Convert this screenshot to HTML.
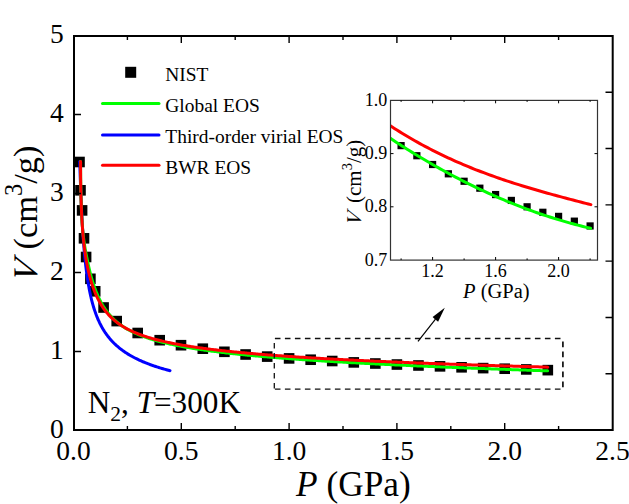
<!DOCTYPE html>
<html><head><meta charset="utf-8"><style>
html,body{margin:0;padding:0;background:#fff;}
body{width:629px;height:504px;overflow:hidden;}
svg{display:block;}
text{font-family:"Liberation Serif",serif;fill:#000;}
</style></head><body>
<svg width="629" height="504" viewBox="0 0 629 504">
<rect width="629" height="504" fill="#fff"/>
<!-- data -->
<g fill="#000"><rect x="74.20" y="156.70" width="10.6" height="10.6"/><rect x="75.20" y="185.00" width="10.6" height="10.6"/><rect x="76.80" y="205.10" width="10.6" height="10.6"/><rect x="78.70" y="233.00" width="10.6" height="10.6"/><rect x="80.80" y="251.70" width="10.6" height="10.6"/><rect x="85.10" y="273.50" width="10.6" height="10.6"/><rect x="89.90" y="286.00" width="10.6" height="10.6"/><rect x="98.30" y="302.20" width="10.6" height="10.6"/><rect x="111.40" y="315.80" width="10.6" height="10.6"/><rect x="132.40" y="327.70" width="10.6" height="10.6"/><rect x="154.40" y="334.90" width="10.6" height="10.6"/><rect x="175.70" y="339.90" width="10.6" height="10.6"/><rect x="197.50" y="343.40" width="10.6" height="10.6"/><rect x="219.10" y="346.50" width="10.6" height="10.6"/><rect x="240.30" y="349.20" width="10.6" height="10.6"/><rect x="261.90" y="351.30" width="10.6" height="10.6"/><rect x="283.80" y="353.10" width="10.6" height="10.6"/><rect x="305.36" y="354.42" width="10.6" height="10.6"/><rect x="326.92" y="355.72" width="10.6" height="10.6"/><rect x="348.48" y="357.10" width="10.6" height="10.6"/><rect x="370.04" y="358.21" width="10.6" height="10.6"/><rect x="391.60" y="359.23" width="10.6" height="10.6"/><rect x="413.16" y="360.18" width="10.6" height="10.6"/><rect x="434.72" y="361.05" width="10.6" height="10.6"/><rect x="456.28" y="362.00" width="10.6" height="10.6"/><rect x="477.84" y="362.81" width="10.6" height="10.6"/><rect x="499.40" y="363.42" width="10.6" height="10.6"/><rect x="520.96" y="364.13" width="10.6" height="10.6"/><rect x="542.52" y="364.84" width="10.6" height="10.6"/></g>
<g fill="none" stroke-width="3" stroke-linejoin="round" stroke-linecap="round">
<path stroke="#0000ff" d="M79.76,161.40 L79.79,162.42 L79.82,163.43 L79.85,164.45 L79.88,165.46 L79.91,166.48 L79.94,167.49 L79.97,168.51 L80.00,169.53 L80.03,170.54 L80.06,171.56 L80.10,172.57 L80.13,173.59 L80.16,174.61 L80.19,175.62 L80.23,176.64 L80.26,177.65 L80.29,178.67 L80.33,179.68 L80.36,180.70 L80.40,181.72 L80.43,182.73 L80.47,183.75 L80.50,184.76 L80.54,185.78 L80.58,186.80 L80.61,187.81 L80.65,188.83 L80.69,189.84 L80.73,190.86 L80.77,191.87 L80.81,192.89 L80.85,193.91 L80.89,194.92 L80.93,195.94 L80.97,196.95 L81.01,197.97 L81.05,198.98 L81.10,200.00 L81.14,201.02 L81.19,202.03 L81.23,203.05 L81.27,204.06 L81.32,205.08 L81.37,206.10 L81.41,207.11 L81.46,208.13 L81.51,209.14 L81.56,210.16 L81.61,211.17 L81.66,212.19 L81.71,213.21 L81.76,214.22 L81.81,215.24 L81.87,216.25 L81.92,217.27 L81.97,218.29 L82.03,219.30 L82.09,220.32 L82.14,221.33 L82.20,222.35 L82.26,223.36 L82.32,224.38 L82.38,225.40 L82.44,226.41 L82.50,227.43 L82.56,228.44 L82.63,229.46 L82.69,230.47 L82.76,231.49 L82.82,232.51 L82.89,233.52 L82.96,234.54 L83.03,235.55 L83.10,236.57 L83.17,237.59 L83.25,238.60 L83.32,239.62 L83.40,240.63 L83.47,241.65 L83.55,242.66 L83.63,243.68 L83.71,244.70 L83.79,245.71 L83.88,246.73 L83.96,247.74 L84.05,248.76 L84.14,249.77 L84.23,250.79 L84.32,251.81 L84.41,252.82 L84.51,253.84 L84.60,254.85 L84.70,255.87 L84.80,256.89 L84.90,257.90 L85.00,258.92 L85.11,259.93 L85.22,260.95 L85.32,261.96 L85.44,262.98 L85.55,264.00 L85.66,265.01 L85.78,266.03 L85.90,267.04 L86.03,268.06 L86.15,269.08 L86.28,270.09 L86.41,271.11 L86.54,272.12 L86.68,273.14 L86.82,274.15 L86.96,275.17 L87.10,276.19 L87.25,277.20 L87.40,278.22 L87.55,279.23 L87.71,280.25 L87.87,281.26 L88.04,282.28 L88.21,283.30 L88.38,284.31 L88.55,285.33 L88.74,286.34 L88.92,287.36 L89.11,288.38 L89.30,289.39 L89.50,290.41 L89.70,291.42 L89.91,292.44 L90.12,293.45 L90.34,294.47 L90.57,295.49 L90.80,296.50 L91.03,297.52 L91.27,298.53 L91.52,299.55 L91.78,300.57 L92.04,301.58 L92.31,302.60 L92.58,303.61 L92.87,304.63 L93.14,305.59 L93.43,306.55 L93.72,307.52 L94.02,308.48 L94.32,309.44 L94.64,310.40 L94.96,311.36 L95.30,312.33 L95.64,313.29 L95.99,314.25 L96.35,315.21 L96.73,316.18 L97.11,317.14 L97.51,318.10 L97.91,319.06 L98.33,320.03 L98.77,320.99 L99.19,321.90 L99.62,322.81 L100.07,323.71 L100.53,324.62 L101.00,325.53 L101.49,326.44 L101.99,327.35 L102.51,328.26 L103.05,329.17 L103.57,330.02 L104.10,330.88 L104.66,331.73 L105.22,332.59 L105.81,333.45 L106.42,334.30 L107.04,335.16 L107.64,335.96 L108.27,336.76 L108.91,337.56 L109.57,338.36 L110.25,339.17 L110.95,339.97 L111.63,340.72 L112.32,341.46 L113.04,342.21 L113.78,342.96 L114.54,343.71 L115.27,344.41 L116.02,345.10 L116.79,345.80 L117.58,346.49 L118.40,347.19 L119.18,347.83 L119.97,348.47 L120.80,349.11 L121.64,349.75 L122.51,350.39 L123.32,350.98 L124.16,351.57 L125.02,352.16 L125.91,352.75 L126.82,353.33 L127.66,353.87 L128.53,354.40 L129.42,354.94 L130.33,355.47 L131.27,356.01 L132.23,356.54 L133.11,357.02 L134.02,357.50 L134.95,357.98 L135.89,358.47 L136.87,358.95 L137.86,359.43 L138.77,359.86 L139.69,360.28 L140.63,360.71 L141.60,361.14 L142.58,361.57 L143.59,361.99 L144.62,362.42 L145.67,362.85 L146.61,363.22 L147.57,363.60 L148.55,363.97 L149.55,364.35 L150.56,364.72 L151.60,365.10 L152.66,365.47 L153.74,365.84 L154.84,366.22 L155.80,366.54 L156.78,366.86 L157.78,367.18 L158.79,367.50 L159.83,367.82 L160.88,368.14 L161.95,368.46 L163.04,368.78 L164.15,369.11 L165.28,369.43 L166.43,369.75 L167.40,370.01 L168.39,370.28 L169.40,370.55 L170.01,370.71"/>
<path stroke="#00ff00" d="M80.56,161.40 L80.56,162.42 L80.57,163.43 L80.57,164.45 L80.57,165.46 L80.57,166.48 L80.58,167.49 L80.58,168.51 L80.59,169.53 L80.60,170.54 L80.60,171.56 L80.61,172.57 L80.62,173.59 L80.62,174.61 L80.63,175.62 L80.64,176.64 L80.65,177.65 L80.66,178.67 L80.68,179.68 L80.69,180.70 L80.70,181.72 L80.72,182.73 L80.73,183.75 L80.75,184.76 L80.76,185.78 L80.78,186.80 L80.80,187.81 L80.82,188.83 L80.84,189.84 L80.86,190.86 L80.88,191.87 L80.90,192.89 L80.92,193.91 L80.95,194.92 L80.97,195.94 L81.00,196.95 L81.03,197.97 L81.06,198.98 L81.09,200.00 L81.12,201.02 L81.15,202.03 L81.18,203.05 L81.22,204.06 L81.25,205.08 L81.29,206.10 L81.33,207.11 L81.37,208.13 L81.41,209.14 L81.45,210.16 L81.50,211.17 L81.54,212.19 L81.59,213.21 L81.64,214.22 L81.69,215.24 L81.74,216.25 L81.80,217.27 L81.85,218.29 L81.91,219.30 L81.97,220.32 L82.03,221.33 L82.09,222.35 L82.15,223.36 L82.22,224.38 L82.29,225.40 L82.38,226.41 L82.47,227.43 L82.56,228.44 L82.65,229.46 L82.75,230.47 L82.85,231.49 L82.96,232.51 L83.07,233.52 L83.18,234.54 L83.29,235.55 L83.41,236.57 L83.54,237.59 L83.67,238.60 L83.80,239.62 L83.93,240.63 L84.07,241.65 L84.21,242.66 L84.36,243.68 L84.51,244.70 L84.67,245.71 L84.83,246.73 L84.99,247.74 L85.16,248.76 L85.34,249.77 L85.51,250.79 L85.70,251.81 L85.88,252.82 L86.07,253.84 L86.27,254.85 L86.47,255.87 L86.67,256.89 L86.89,257.90 L87.10,258.92 L87.32,259.93 L87.55,260.95 L87.78,261.96 L87.98,262.98 L88.19,264.00 L88.40,265.01 L88.61,266.03 L88.83,267.04 L89.06,268.06 L89.29,269.08 L89.53,270.09 L89.77,271.11 L90.02,272.12 L90.27,273.14 L90.53,274.15 L90.79,275.17 L91.06,276.19 L91.34,277.20 L91.62,278.22 L91.90,279.18 L92.18,280.14 L92.47,281.10 L92.76,282.07 L93.07,283.03 L93.37,283.99 L93.69,284.95 L94.02,285.92 L94.35,286.88 L94.69,287.84 L95.04,288.80 L95.39,289.77 L95.76,290.73 L96.14,291.69 L96.53,292.65 L96.92,293.61 L97.33,294.58 L97.75,295.54 L98.18,296.50 L98.60,297.41 L99.03,298.32 L99.47,299.23 L99.92,300.14 L100.39,301.05 L100.87,301.96 L101.37,302.86 L101.88,303.77 L102.40,304.68 L102.95,305.59 L103.47,306.45 L104.01,307.30 L104.57,308.16 L105.15,309.01 L105.75,309.87 L106.36,310.72 L107.00,311.58 L107.61,312.38 L108.25,313.18 L108.90,313.98 L109.58,314.79 L110.28,315.59 L110.96,316.34 L111.66,317.09 L112.38,317.83 L113.13,318.58 L113.90,319.33 L114.65,320.03 L115.41,320.72 L116.21,321.42 L117.03,322.11 L117.81,322.75 L118.62,323.39 L119.45,324.04 L120.31,324.68 L121.13,325.27 L121.97,325.85 L122.84,326.44 L123.74,327.03 L124.66,327.62 L125.53,328.15 L126.43,328.69 L127.35,329.22 L128.30,329.76 L129.18,330.24 L130.08,330.72 L131.01,331.20 L131.97,331.68 L132.96,332.16 L133.97,332.64 L134.90,333.07 L135.85,333.50 L136.82,333.93 L137.83,334.35 L138.86,334.78 L139.91,335.21 L140.86,335.58 L141.83,335.96 L142.83,336.33 L143.85,336.71 L144.89,337.08 L145.96,337.45 L147.05,337.83 L148.02,338.15 L149.00,338.47 L150.00,338.79 L151.02,339.11 L152.07,339.43 L153.14,339.75 L154.23,340.07 L155.35,340.40 L156.49,340.72 L157.46,340.98 L158.44,341.25 L159.45,341.52 L160.48,341.79 L161.52,342.05 L162.58,342.32 L163.67,342.59 L164.77,342.85 L165.89,343.12 L167.04,343.39 L168.21,343.66 L169.40,343.92 L170.61,344.19 L171.60,344.41 L172.60,344.62 L173.61,344.83 L174.65,345.05 L175.70,345.26 L176.76,345.47 L177.84,345.69 L178.94,345.90 L180.06,346.12 L181.19,346.33 L182.34,346.54 L183.51,346.76 L184.69,346.97 L185.90,347.19 L187.12,347.40 L188.37,347.61 L189.63,347.83 L190.91,348.04 L192.22,348.25 L193.21,348.41 L194.21,348.58 L195.23,348.74 L196.25,348.90 L197.29,349.06 L198.35,349.22 L199.41,349.38 L200.49,349.54 L201.58,349.70 L202.68,349.86 L203.80,350.02 L204.93,350.18 L206.07,350.34 L207.23,350.50 L208.40,350.66 L209.58,350.82 L210.78,350.98 L212.00,351.14 L213.22,351.30 L214.47,351.46 L215.73,351.62 L217.00,351.78 L218.29,351.94 L219.60,352.10 L220.92,352.26 L222.25,352.42 L223.61,352.58 L224.98,352.75 L226.36,352.91 L227.77,353.07 L229.19,353.23 L230.62,353.39 L232.08,353.55 L233.55,353.71 L235.04,353.87 L236.05,353.98 L237.06,354.08 L238.08,354.19 L239.11,354.30 L240.14,354.40 L241.19,354.51 L242.24,354.62 L243.31,354.72 L244.38,354.83 L245.46,354.94 L246.55,355.04 L247.64,355.15 L248.75,355.26 L249.87,355.37 L250.99,355.47 L252.12,355.58 L253.27,355.69 L254.42,355.79 L255.58,355.90 L256.75,356.01 L257.93,356.11 L259.12,356.22 L260.32,356.33 L261.53,356.43 L262.75,356.54 L263.98,356.65 L265.22,356.76 L266.47,356.86 L267.73,356.97 L269.00,357.08 L270.28,357.18 L271.57,357.29 L272.87,357.40 L274.18,357.50 L275.51,357.61 L276.84,357.72 L278.18,357.82 L279.54,357.93 L280.90,358.04 L282.28,358.15 L283.67,358.25 L285.07,358.36 L286.48,358.47 L287.90,358.57 L289.33,358.68 L290.78,358.79 L292.23,358.89 L293.70,359.00 L295.18,359.11 L296.67,359.21 L298.18,359.32 L299.69,359.43 L301.22,359.54 L302.76,359.64 L304.31,359.75 L305.88,359.86 L307.46,359.96 L309.05,360.07 L310.65,360.18 L312.26,360.28 L313.89,360.39 L315.53,360.50 L317.19,360.60 L318.86,360.71 L320.54,360.82 L322.23,360.93 L323.94,361.03 L325.66,361.14 L327.39,361.25 L329.14,361.35 L330.90,361.46 L332.68,361.57 L334.47,361.67 L336.27,361.78 L338.09,361.89 L339.92,361.99 L341.77,362.10 L343.63,362.21 L345.50,362.32 L347.39,362.42 L349.30,362.53 L351.22,362.64 L353.15,362.74 L355.10,362.85 L357.06,362.96 L359.04,363.06 L361.03,363.17 L362.04,363.22 L363.04,363.28 L364.05,363.33 L365.07,363.38 L366.08,363.44 L367.11,363.49 L368.13,363.54 L369.16,363.60 L370.19,363.65 L371.23,363.71 L372.27,363.76 L373.32,363.81 L374.36,363.87 L375.42,363.92 L376.47,363.97 L377.53,364.03 L378.60,364.08 L379.67,364.13 L380.74,364.19 L381.82,364.24 L382.90,364.29 L383.98,364.35 L385.07,364.40 L386.16,364.45 L387.26,364.51 L388.36,364.56 L389.46,364.61 L390.57,364.67 L391.68,364.72 L392.80,364.77 L393.92,364.83 L395.05,364.88 L396.18,364.94 L397.31,364.99 L398.45,365.04 L399.59,365.10 L400.73,365.15 L401.88,365.20 L403.03,365.26 L404.19,365.31 L405.35,365.36 L406.52,365.42 L407.69,365.47 L408.86,365.52 L410.04,365.58 L411.23,365.63 L412.41,365.68 L413.60,365.74 L414.80,365.79 L416.00,365.84 L417.20,365.90 L418.41,365.95 L419.62,366.00 L420.84,366.06 L422.06,366.11 L423.28,366.16 L424.51,366.22 L425.75,366.27 L426.98,366.33 L428.22,366.38 L429.47,366.43 L430.72,366.49 L431.98,366.54 L433.23,366.59 L434.50,366.65 L435.76,366.70 L437.04,366.75 L438.31,366.81 L439.59,366.86 L440.88,366.91 L442.16,366.97 L443.46,367.02 L444.76,367.07 L446.06,367.13 L447.36,367.18 L448.67,367.23 L449.99,367.29 L451.31,367.34 L452.63,367.39 L453.96,367.45 L455.29,367.50 L456.62,367.55 L457.96,367.61 L459.31,367.66 L460.66,367.72 L462.01,367.77 L463.37,367.82 L464.73,367.88 L466.09,367.93 L467.46,367.98 L468.84,368.04 L470.22,368.09 L471.60,368.14 L472.99,368.20 L474.38,368.25 L475.77,368.30 L477.17,368.36 L478.58,368.41 L479.99,368.46 L481.40,368.52 L482.82,368.57 L484.24,368.62 L485.66,368.68 L487.09,368.73 L488.53,368.78 L489.96,368.84 L491.41,368.89 L492.85,368.94 L494.30,369.00 L495.76,369.05 L497.21,369.11 L498.68,369.16 L500.14,369.21 L501.62,369.27 L503.09,369.32 L504.57,369.37 L506.05,369.43 L507.54,369.48 L509.03,369.53 L510.53,369.59 L512.03,369.64 L513.53,369.69 L515.04,369.75 L516.55,369.80 L518.06,369.85 L519.58,369.91 L521.11,369.96 L522.63,370.01 L524.16,370.07 L525.70,370.12 L527.24,370.17 L528.78,370.23 L530.32,370.28 L531.87,370.33 L533.43,370.39 L534.99,370.44 L536.55,370.50 L538.11,370.55 L539.68,370.60 L541.25,370.66 L542.83,370.71 L544.41,370.76 L545.99,370.82 L547.58,370.87 L547.58,370.87"/>
<path stroke="#ff0000" d="M80.56,161.40 L80.56,162.42 L80.57,163.43 L80.57,164.45 L80.57,165.46 L80.57,166.48 L80.58,167.49 L80.58,168.51 L80.59,169.53 L80.60,170.54 L80.60,171.56 L80.61,172.57 L80.62,173.59 L80.62,174.61 L80.63,175.62 L80.64,176.64 L80.65,177.65 L80.66,178.67 L80.68,179.68 L80.69,180.70 L80.70,181.72 L80.72,182.73 L80.73,183.75 L80.75,184.76 L80.76,185.78 L80.78,186.80 L80.80,187.81 L80.82,188.83 L80.84,189.84 L80.86,190.86 L80.88,191.87 L80.90,192.89 L80.92,193.91 L80.95,194.92 L80.97,195.94 L81.00,196.95 L81.03,197.97 L81.06,198.98 L81.09,200.00 L81.12,201.02 L81.15,202.03 L81.18,203.05 L81.22,204.06 L81.25,205.08 L81.29,206.10 L81.33,207.11 L81.37,208.13 L81.41,209.14 L81.45,210.16 L81.50,211.17 L81.54,212.19 L81.59,213.21 L81.64,214.22 L81.69,215.24 L81.74,216.25 L81.80,217.27 L81.85,218.29 L81.91,219.30 L81.97,220.32 L82.03,221.33 L82.09,222.35 L82.15,223.36 L82.22,224.38 L82.29,225.40 L82.36,226.41 L82.43,227.43 L82.51,228.44 L82.58,229.46 L82.66,230.47 L82.75,231.49 L82.83,232.51 L82.92,233.52 L83.00,234.54 L83.09,235.55 L83.19,236.57 L83.29,237.59 L83.38,238.60 L83.49,239.62 L83.59,240.63 L83.70,241.65 L83.81,242.66 L83.92,243.68 L84.04,244.70 L84.16,245.71 L84.28,246.73 L84.41,247.74 L84.54,248.76 L84.67,249.77 L84.81,250.79 L84.95,251.81 L85.09,252.82 L85.24,253.84 L85.39,254.85 L85.55,255.87 L85.71,256.89 L85.87,257.90 L86.04,258.92 L86.21,259.93 L86.39,260.95 L86.57,261.96 L86.76,262.98 L86.95,264.00 L87.15,265.01 L87.35,266.03 L87.55,267.04 L87.77,268.06 L87.98,269.08 L88.21,270.09 L88.44,271.11 L88.67,272.12 L88.92,273.14 L89.16,274.15 L89.42,275.17 L89.68,276.19 L89.95,277.20 L90.23,278.22 L90.51,279.23 L90.79,280.20 L91.07,281.16 L91.36,282.12 L91.66,283.08 L91.96,284.04 L92.28,285.01 L92.60,285.97 L92.93,286.93 L93.27,287.89 L93.62,288.86 L93.98,289.82 L94.35,290.78 L94.73,291.74 L95.12,292.71 L95.52,293.67 L95.94,294.63 L96.37,295.59 L96.81,296.56 L97.23,297.46 L97.67,298.37 L98.13,299.28 L98.59,300.19 L99.07,301.10 L99.57,302.01 L100.08,302.92 L100.61,303.83 L101.15,304.74 L101.68,305.59 L102.23,306.45 L102.79,307.30 L103.38,308.16 L103.98,309.01 L104.60,309.87 L105.20,310.67 L105.82,311.47 L106.47,312.27 L107.13,313.08 L107.82,313.88 L108.49,314.63 L109.17,315.37 L109.88,316.12 L110.62,316.87 L111.38,317.62 L112.11,318.31 L112.87,319.01 L113.65,319.71 L114.46,320.40 L115.23,321.04 L116.02,321.68 L116.85,322.32 L117.70,322.97 L118.58,323.61 L119.42,324.20 L120.28,324.78 L121.17,325.37 L122.09,325.96 L122.95,326.49 L123.84,327.03 L124.76,327.56 L125.70,328.10 L126.58,328.58 L127.48,329.06 L128.41,329.54 L129.37,330.02 L130.36,330.50 L131.37,330.99 L132.30,331.41 L133.25,331.84 L134.23,332.27 L135.24,332.70 L136.27,333.12 L137.20,333.50 L138.15,333.87 L139.13,334.25 L140.13,334.62 L141.16,335.00 L142.21,335.37 L143.29,335.74 L144.39,336.12 L145.36,336.44 L146.36,336.76 L147.37,337.08 L148.41,337.40 L149.47,337.72 L150.55,338.04 L151.66,338.36 L152.80,338.68 L153.77,338.95 L154.75,339.22 L155.75,339.49 L156.78,339.75 L157.82,340.02 L158.88,340.29 L159.97,340.56 L161.07,340.82 L162.20,341.09 L163.35,341.36 L164.53,341.63 L165.72,341.89 L166.94,342.16 L167.94,342.37 L168.95,342.59 L169.98,342.80 L171.02,343.02 L172.08,343.23 L173.16,343.44 L174.26,343.66 L175.37,343.87 L176.50,344.08 L177.65,344.30 L178.82,344.51 L180.01,344.73 L181.22,344.94 L182.45,345.15 L183.70,345.37 L184.97,345.58 L186.27,345.80 L187.58,346.01 L188.58,346.17 L189.60,346.33 L190.62,346.49 L191.66,346.65 L192.71,346.81 L193.78,346.97 L194.86,347.13 L195.95,347.29 L197.06,347.45 L198.18,347.61 L199.32,347.77 L200.47,347.93 L201.64,348.09 L202.82,348.25 L204.01,348.41 L205.22,348.58 L206.45,348.74 L207.70,348.90 L208.96,349.06 L210.23,349.22 L211.53,349.38 L212.84,349.54 L214.16,349.70 L215.51,349.86 L216.87,350.02 L218.25,350.18 L219.65,350.34 L221.07,350.50 L222.51,350.66 L223.96,350.82 L225.44,350.98 L226.93,351.14 L227.94,351.25 L228.96,351.36 L229.98,351.46 L231.02,351.57 L232.06,351.68 L233.11,351.78 L234.18,351.89 L235.25,352.00 L236.33,352.10 L237.42,352.21 L238.52,352.32 L239.63,352.42 L240.75,352.53 L241.89,352.64 L243.03,352.75 L244.18,352.85 L245.34,352.96 L246.51,353.07 L247.70,353.17 L248.89,353.28 L250.09,353.39 L251.31,353.49 L252.54,353.60 L253.77,353.71 L255.02,353.81 L256.28,353.92 L257.55,354.03 L258.84,354.14 L260.13,354.24 L261.44,354.35 L262.76,354.46 L264.09,354.56 L265.43,354.67 L266.79,354.78 L268.15,354.88 L269.53,354.99 L270.92,355.10 L272.33,355.20 L273.75,355.31 L275.18,355.42 L276.62,355.53 L278.08,355.63 L279.55,355.74 L281.04,355.85 L282.53,355.95 L284.04,356.06 L285.57,356.17 L287.11,356.27 L288.66,356.38 L290.23,356.49 L291.81,356.59 L293.41,356.70 L295.02,356.81 L296.65,356.92 L298.29,357.02 L299.95,357.13 L301.62,357.24 L303.31,357.34 L305.01,357.45 L306.73,357.56 L308.47,357.66 L310.22,357.77 L311.99,357.88 L313.77,357.98 L315.57,358.09 L317.39,358.20 L319.22,358.31 L321.08,358.41 L322.94,358.52 L324.83,358.63 L326.73,358.73 L328.66,358.84 L330.59,358.95 L332.55,359.05 L334.53,359.16 L336.52,359.27 L337.53,359.32 L338.53,359.37 L339.55,359.43 L340.57,359.48 L341.59,359.54 L342.62,359.59 L343.65,359.64 L344.69,359.70 L345.73,359.75 L346.77,359.80 L347.83,359.86 L348.88,359.91 L349.94,359.96 L351.01,360.02 L352.08,360.07 L353.16,360.12 L354.24,360.18 L355.33,360.23 L356.42,360.28 L357.51,360.34 L358.62,360.39 L359.72,360.44 L360.84,360.50 L361.95,360.55 L363.08,360.60 L364.20,360.66 L365.34,360.71 L366.47,360.76 L367.62,360.82 L368.77,360.87 L369.92,360.93 L371.08,360.98 L372.25,361.03 L373.42,361.09 L374.59,361.14 L375.77,361.19 L376.96,361.25 L378.15,361.30 L379.35,361.35 L380.56,361.41 L381.77,361.46 L382.98,361.51 L384.20,361.57 L385.43,361.62 L386.66,361.67 L387.90,361.73 L389.14,361.78 L390.39,361.83 L391.65,361.89 L392.91,361.94 L394.17,361.99 L395.45,362.05 L396.73,362.10 L398.01,362.15 L399.30,362.21 L400.60,362.26 L401.90,362.32 L403.21,362.37 L404.53,362.42 L405.85,362.48 L407.18,362.53 L408.51,362.58 L409.85,362.64 L411.20,362.69 L412.55,362.74 L413.91,362.80 L415.27,362.85 L416.64,362.90 L418.02,362.96 L419.41,363.01 L420.80,363.06 L422.19,363.12 L423.60,363.17 L425.01,363.22 L426.43,363.28 L427.85,363.33 L429.28,363.38 L430.72,363.44 L432.16,363.49 L433.61,363.54 L435.07,363.60 L436.53,363.65 L438.00,363.71 L439.48,363.76 L440.96,363.81 L442.46,363.87 L443.95,363.92 L445.46,363.97 L446.97,364.03 L448.49,364.08 L450.02,364.13 L451.55,364.19 L453.09,364.24 L454.64,364.29 L456.20,364.35 L457.76,364.40 L459.33,364.45 L460.90,364.51 L462.49,364.56 L464.08,364.61 L465.68,364.67 L467.29,364.72 L468.90,364.77 L470.52,364.83 L472.15,364.88 L473.79,364.94 L475.43,364.99 L477.08,365.04 L478.74,365.10 L480.41,365.15 L482.08,365.20 L483.77,365.26 L485.46,365.31 L487.15,365.36 L488.86,365.42 L490.57,365.47 L492.30,365.52 L494.02,365.58 L495.76,365.63 L497.51,365.68 L499.26,365.74 L501.02,365.79 L502.79,365.84 L504.57,365.90 L506.36,365.95 L508.15,366.00 L509.96,366.06 L511.77,366.11 L513.59,366.16 L515.42,366.22 L517.25,366.27 L519.10,366.33 L520.95,366.38 L522.81,366.43 L524.68,366.49 L526.56,366.54 L528.45,366.59 L530.35,366.65 L532.25,366.70 L534.16,366.75 L536.09,366.81 L538.02,366.86 L539.96,366.91 L541.91,366.97 L543.87,367.02 L545.83,367.07 L547.81,367.13 L547.81,367.13"/>
</g>
<!-- frame -->
<path d="M74,36 H612.7 V430 H74 Z" fill="none" stroke="#000" stroke-width="2"/>
<path d="M127.40,430 V426 M127.40,36 V40 M181.30,430 V423 M181.30,36 V43 M235.20,430 V426 M235.20,36 V40 M289.10,430 V423 M289.10,36 V43 M343.00,430 V426 M343.00,36 V40 M396.90,430 V423 M396.90,36 V43 M450.80,430 V426 M450.80,36 V40 M504.70,430 V423 M504.70,36 V43 M558.60,430 V426 M558.60,36 V40 M74,351.50 H81 M74,272.50 H81 M74,193.50 H81 M74,114.50 H81 M612.7,92.29 H605.5 M612.7,148.57 H605.5 M612.7,204.86 H605.5 M612.7,261.14 H605.5 M612.7,317.43 H605.5 M612.7,373.71 H605.5" stroke="#000" stroke-width="1.4" fill="none"/>
<g font-size="27.5"><text x="73.50" y="459.7" text-anchor="middle">0.0</text><text x="181.30" y="459.7" text-anchor="middle">0.5</text><text x="289.10" y="459.7" text-anchor="middle">1.0</text><text x="396.90" y="459.7" text-anchor="middle">1.5</text><text x="504.70" y="459.7" text-anchor="middle">2.0</text><text x="612.50" y="459.7" text-anchor="middle">2.5</text><text x="63.8" y="438.10" text-anchor="end">0</text><text x="63.8" y="359.10" text-anchor="end">1</text><text x="63.8" y="280.10" text-anchor="end">2</text><text x="63.8" y="201.10" text-anchor="end">3</text><text x="63.8" y="122.10" text-anchor="end">4</text><text x="63.8" y="43.10" text-anchor="end">5</text></g>
<!-- axis titles -->
<text x="296" y="495.5" font-size="35.3"><tspan font-style="italic">P</tspan> (GPa)</text>
<g transform="translate(36.6,279.3) rotate(-90)" font-size="34.5">
<text transform="translate(-4.3,0) skewX(-13)" font-style="italic">V</text>
<text x="29.70">(cm<tspan font-size="24.5" dy="-14.3">3</tspan><tspan dy="14.3">/g)</tspan></text>
</g>
<!-- legend -->
<rect x="125.2" y="66.8" width="11" height="11" fill="#000"/>
<g stroke-width="3" stroke-linecap="round">
<line x1="102.5" y1="103.5" x2="159" y2="103.5" stroke="#00ff00"/>
<line x1="102.5" y1="134.9" x2="159" y2="134.9" stroke="#0000ff"/>
<line x1="102.5" y1="165.3" x2="159" y2="165.3" stroke="#ff0000"/>
</g>
<g font-size="19.45">
<text x="165.3" y="80.7">NIST</text>
<text x="165.3" y="111.7">Global EOS</text>
<text x="165.3" y="142.7">Third-order virial EOS</text>
<text x="165.3" y="173.7">BWR EOS</text>
</g>
<!-- annotation -->
<text x="87.8" y="413" font-size="31.2">N<tspan font-size="21.5" dy="7.5">2</tspan><tspan dy="-7.5">, </tspan><tspan font-style="italic">T</tspan>=300K</text>
<!-- dashed rect and arrow -->
<g stroke="#111" stroke-width="1.3" fill="none" stroke-dasharray="5.6 4.4" stroke-dashoffset="-0.6">
<line x1="274.3" y1="338.5" x2="562.9" y2="338.5"/>
<line x1="274.3" y1="389.2" x2="562.9" y2="389.2"/>
<line x1="274.3" y1="389.2" x2="274.3" y2="338.5"/>
<line x1="562.9" y1="341" x2="562.9" y2="389.2" stroke-width="1.7"/>
</g>
<line x1="418" y1="341.3" x2="435.5" y2="319.2" stroke="#000" stroke-width="1.2"/>
<path d="M444.8,307.7 L432.6,317 Q435,319.5 438.1,321.8 Z" fill="#000"/>
<!-- inset -->
<g fill="#000"><rect x="397.50" y="142.02" width="7.2" height="7.2"/><rect x="413.25" y="152.13" width="7.2" height="7.2"/><rect x="429.00" y="160.91" width="7.2" height="7.2"/><rect x="444.75" y="170.22" width="7.2" height="7.2"/><rect x="460.50" y="177.66" width="7.2" height="7.2"/><rect x="476.25" y="184.58" width="7.2" height="7.2"/><rect x="492.00" y="190.96" width="7.2" height="7.2"/><rect x="507.75" y="196.82" width="7.2" height="7.2"/><rect x="523.50" y="203.20" width="7.2" height="7.2"/><rect x="539.25" y="208.68" width="7.2" height="7.2"/><rect x="555.00" y="212.78" width="7.2" height="7.2"/><rect x="570.75" y="217.56" width="7.2" height="7.2"/><rect x="586.50" y="222.35" width="7.2" height="7.2"/></g>
<clipPath id="ic"><rect x="390.6" y="100" width="210" height="160"/></clipPath>
<g fill="none" stroke-width="3" stroke-linecap="round" stroke-linejoin="round" clip-path="url(#ic)">
<path stroke="#00ff00" d="M389.29,137.62 L391.84,139.32 L394.38,141.00 L396.93,142.66 L399.48,144.31 L402.03,145.95 L404.57,147.57 L407.12,149.18 L409.67,150.78 L412.22,152.36 L414.77,153.92 L417.31,155.48 L419.86,157.02 L422.41,158.54 L424.96,160.05 L427.51,161.55 L430.05,163.03 L432.60,164.50 L435.15,165.96 L437.70,167.40 L440.25,168.83 L442.79,170.24 L445.34,171.64 L447.89,173.03 L450.44,174.40 L452.99,175.75 L455.53,177.10 L458.08,178.43 L460.63,179.74 L463.18,181.05 L465.72,182.33 L468.27,183.61 L470.82,184.87 L473.37,186.11 L475.92,187.34 L478.46,188.56 L481.01,189.77 L483.56,190.96 L486.11,192.13 L488.66,193.29 L491.20,194.44 L493.75,195.58 L496.30,196.70 L498.85,197.80 L501.40,198.89 L503.94,199.97 L506.49,201.04 L509.04,202.09 L511.59,203.12 L514.14,204.15 L516.68,205.15 L519.23,206.15 L521.78,207.13 L524.33,208.09 L526.87,209.05 L529.42,209.99 L531.97,210.91 L534.52,211.82 L537.07,212.72 L539.61,213.60 L542.16,214.47 L544.71,215.32 L547.26,216.16 L549.81,216.99 L552.35,217.80 L554.90,218.60 L557.45,219.39 L560.00,220.16 L562.55,220.91 L565.09,221.66 L567.64,222.38 L570.19,223.10 L572.74,223.80 L575.29,224.49 L577.83,225.16 L580.38,225.82 L582.93,226.46 L585.48,227.10 L588.02,227.71 L590.57,228.32"/>
<path stroke="#ff0000" d="M389.29,125.08 L391.84,126.75 L394.39,128.40 L396.94,130.03 L399.50,131.63 L402.05,133.20 L404.60,134.76 L407.15,136.29 L409.70,137.79 L412.25,139.27 L414.81,140.73 L417.36,142.17 L419.91,143.59 L422.46,144.98 L425.01,146.35 L427.57,147.70 L430.12,149.03 L432.67,150.34 L435.22,151.63 L437.77,152.90 L440.33,154.15 L442.88,155.38 L445.43,156.59 L447.98,157.79 L450.53,158.96 L453.08,160.12 L455.64,161.26 L458.19,162.38 L460.74,163.49 L463.29,164.57 L465.84,165.65 L468.40,166.70 L470.95,167.74 L473.50,168.77 L476.05,169.78 L478.60,170.77 L481.16,171.75 L483.71,172.72 L486.26,173.67 L488.81,174.61 L491.36,175.53 L493.92,176.45 L496.47,177.35 L499.02,178.23 L501.57,179.11 L504.12,179.97 L506.67,180.83 L509.23,181.67 L511.78,182.50 L514.33,183.32 L516.88,184.13 L519.43,184.93 L521.99,185.72 L524.54,186.50 L527.09,187.28 L529.64,188.04 L532.19,188.80 L534.75,189.55 L537.30,190.29 L539.85,191.02 L542.40,191.75 L544.95,192.47 L547.51,193.18 L550.06,193.89 L552.61,194.60 L555.16,195.29 L557.71,195.98 L560.26,196.67 L562.82,197.35 L565.37,198.03 L567.92,198.71 L570.47,199.38 L573.02,200.05 L575.58,200.71 L578.13,201.38 L580.68,202.04 L583.23,202.70 L585.78,203.35 L588.34,204.01 L590.89,204.66"/>
</g>
<rect x="390.5" y="100.4" width="207" height="159.7" fill="none" stroke="#333" stroke-width="1.2"/>
<path d="M401.10,260 V258.4 M401.10,100.3 V101.89999999999999 M432.60,260 V257 M432.60,100.3 V103.3 M464.10,260 V258.4 M464.10,100.3 V101.89999999999999 M495.60,260 V257 M495.60,100.3 V103.3 M527.10,260 V258.4 M527.10,100.3 V101.89999999999999 M558.60,260 V257 M558.60,100.3 V103.3 M590.10,260 V258.4 M590.10,100.3 V101.89999999999999 M390.5,206.80 H393.5 M597.5,206.80 H594.5 M390.5,153.60 H393.5 M597.5,153.60 H594.5" stroke="#000" stroke-width="1" fill="none"/>
<g font-size="18"><text x="432.60" y="276.8" text-anchor="middle">1.2</text><text x="495.60" y="276.8" text-anchor="middle">1.6</text><text x="558.60" y="276.8" text-anchor="middle">2.0</text><text x="387.2" y="265.60" text-anchor="end">0.7</text><text x="387.2" y="212.40" text-anchor="end">0.8</text><text x="387.2" y="159.20" text-anchor="end">0.9</text><text x="387.2" y="106.00" text-anchor="end">1.0</text></g>
<text x="463" y="297.6" font-size="20.5"><tspan font-style="italic">P</tspan> (GPa)</text>
<g transform="translate(360.8,222.6) rotate(-90)" font-size="21">
<text transform="translate(-3.4,0) skewX(-13)" font-style="italic">V</text>
<text x="19.58">(cm<tspan font-size="14.5" dy="-8.8">3</tspan><tspan dy="8.8">/g)</tspan></text>
</g>
</svg>
</body></html>
